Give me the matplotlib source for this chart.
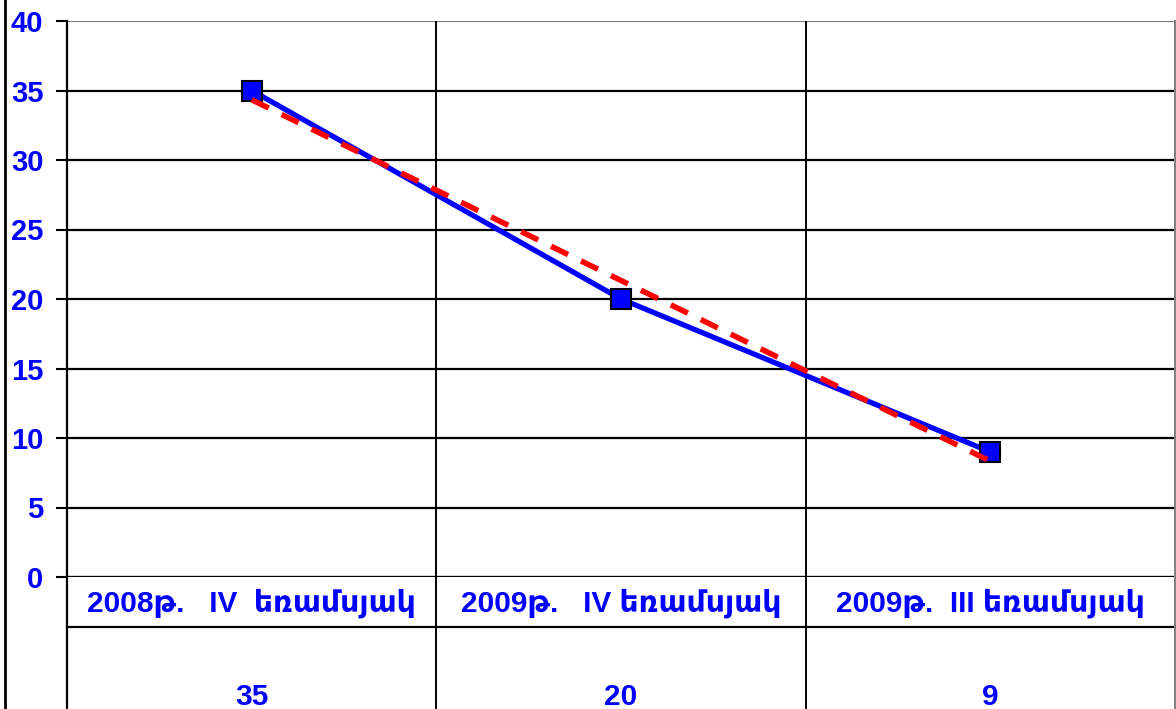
import matplotlib
matplotlib.use("Agg")
import matplotlib.pyplot as plt
import numpy as np
from matplotlib.lines import Line2D

categories = ["2008թ.   IV  եռամսյակ", "2009թ.   IV եռամսյակ", "2009թ.  III եռամսյակ"]
values = [35, 20, 9]
y_ticks = [0, 5, 10, 15, 20, 25, 30, 35, 40]

W, H = 1176, 709
fig = plt.figure(figsize=(W / 100, H / 100), dpi=100)
fam = ["Liberation Sans", "DejaVu Sans"]

left, right, top, bottom = 67, 1175, 21, 577
ax = fig.add_axes([left / W, 1 - bottom / H, (right - left) / W, (bottom - top) / H])

x = np.arange(len(values)) + 0.5
ax.set_xlim(0, len(values))
ax.set_ylim(0, 40)

# horizontal grid
for t in y_ticks[1:-1]:
    ax.axhline(t, color="black", lw=1.6, zorder=1)
ax.axhline(40, color="#808080", lw=1.6, zorder=1)
# category separators
for b in range(1, len(values)):
    ax.axvline(b, color="black", lw=1.4, zorder=1)

ax.plot(x, values, color="#0000FF", lw=3.8, zorder=3,
        marker="s", markersize=14, markerfacecolor="#0000FF",
        markeredgecolor="black", markeredgewidth=1.5)

# linear trend
coef = np.polyfit(x, values, 1)
ax.plot(x, np.polyval(coef, x), color="#FF0000", lw=4, ls=(0, (3.4, 2.6)), zorder=4)

ax.set_yticks(y_ticks)
ax.set_yticklabels([str(t) for t in y_ticks], color="#0000FF", fontsize=21,
                   fontweight="bold", family=fam)
ax.tick_params(axis="y", length=8, width=1.5, pad=9, color="black")
ax.set_xticks([])
for s in ["top", "bottom"]:
    ax.spines[s].set_visible(False)
ax.spines["left"].set_linewidth(1.6)
ax.spines["right"].set_color("#808080")
ax.spines["right"].set_linewidth(1.4)
ax.axhline(0, color="black", lw=2.4, zorder=2)

# data table below the plot
def fx(px):
    return px / W

def fy(py):
    return 1 - py / H

col_w = (right - left) / len(values)
fig.add_artist(Line2D([fx(left), fx(right)], [fy(627), fy(627)], color="black", lw=1.6))
fig.add_artist(Line2D([fx(left), fx(left)], [fy(bottom), fy(H)], color="black", lw=1.6))
fig.add_artist(Line2D([fx(right), fx(right)], [fy(bottom), fy(H)], color="#808080", lw=1.4))
for b in range(1, len(values)):
    xb = left + b * col_w
    fig.add_artist(Line2D([fx(xb), fx(xb)], [fy(bottom), fy(H)], color="black", lw=1.4))
fig.add_artist(Line2D([fx(5), fx(5)], [0, 1], color="black", lw=2))

for i, (c, v) in enumerate(zip(categories, values)):
    cx = left + (i + 0.5) * col_w
    fig.text(fx(cx), fy(603), c, ha="center", va="center", color="#0000FF",
             fontsize=21.5, fontweight="bold", family=fam)
    fig.text(fx(cx), fy(697), str(v), ha="center", va="center", color="#0000FF",
             fontsize=21.5, fontweight="bold", family=fam)

fig.savefig("out.png", dpi=100)
